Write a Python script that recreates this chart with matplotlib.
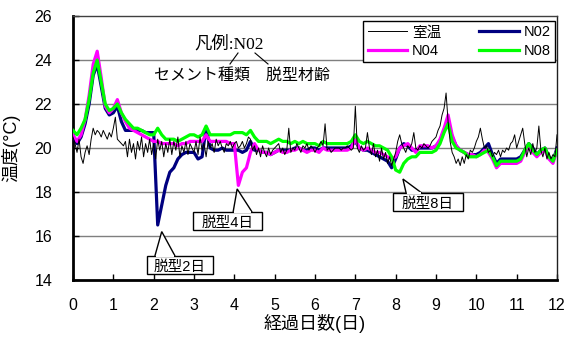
import numpy as np
import matplotlib
matplotlib.use("Agg")
import matplotlib.pyplot as plt
from matplotlib.patches import Rectangle, Polygon
from matplotlib.lines import Line2D

plt.rcParams['font.family'] = ['Liberation Sans', 'Noto Sans CJK JP', 'DejaVu Sans']

# ---- data -------------------------------------------------------------
# concrete temperatures sampled every 0.1 day, room temperature every 0.05 day
t_concrete = np.round(np.arange(0, 12.0001, 0.1), 2)
t_room = np.round(np.arange(0, 12.0001, 0.05), 2)

n02 = [
    20.5, 20.2, 20.5, 21.1, 22.0, 23.3, 23.8, 22.8, 21.8, 21.5,
    21.6, 21.9, 21.2, 20.8, 20.8, 20.8, 20.8, 20.8, 20.7, 20.7,
    20.7, 16.5, 17.4, 18.3, 18.9, 19.1, 19.5, 19.7, 19.8, 19.8,
    19.8, 19.5, 19.6, 20.9, 20.0, 19.9, 19.9, 20.0, 19.9, 19.9,
    19.9, 19.9, 19.8, 19.9, 20.3, 19.9, 19.9, 19.8, 19.8, 19.7,
    19.8, 19.9, 19.9, 19.9, 19.9, 20.0, 20.0, 19.9, 19.9, 20.0,
    20.0, 19.9, 20.0, 20.0, 20.0, 20.0, 20.0, 20.0, 20.0, 20.1,
    20.3, 20.0, 19.9, 19.9, 19.8, 19.7, 19.6, 19.5, 19.4, 19.1,
    19.5, 20.0, 20.2, 20.1, 19.9, 19.9, 20.0, 20.0, 20.0, 20.0,
    20.1, 20.3, 20.8, 21.2, 20.5, 20.1, 19.9, 19.8, 19.7, 19.7,
    19.7, 19.8, 20.0, 20.2, 19.7, 19.3, 19.5, 19.5, 19.5, 19.5,
    19.5, 19.6, 19.9, 20.2, 20.0, 19.7, 19.9, 20.0, 19.6, 19.4,
    20.0,
]

n04 = [
    20.6, 20.3, 20.6, 21.3, 22.4, 23.8, 24.4, 23.2, 21.9, 21.6,
    21.8, 22.2, 21.6, 21.2, 20.9, 20.8, 20.7, 20.6, 20.5, 20.4,
    20.3, 20.3, 20.2, 20.2, 20.2, 20.2, 20.1, 20.2, 20.2, 20.3,
    20.3, 20.3, 20.3, 20.6, 20.3, 20.3, 20.3, 20.3, 20.3, 20.2,
    20.2, 18.3, 18.9, 19.1, 19.8, 20.2, 19.9, 19.8, 19.8, 19.7,
    19.8, 19.9, 19.8, 19.8, 19.9, 19.9, 20.0, 19.9, 19.8, 19.9,
    19.9, 19.8, 20.0, 19.9, 19.9, 19.9, 19.9, 19.9, 19.9, 20.0,
    20.4, 20.0, 19.9, 20.0, 19.9, 19.8, 19.8, 19.7, 19.6, 19.5,
    19.6, 20.0, 20.1, 20.2, 20.0, 19.8, 20.1, 20.1, 20.1, 20.0,
    20.1, 20.4, 20.9, 21.5, 20.6, 20.1, 19.9, 19.8, 19.7, 19.7,
    19.6, 19.7, 19.9, 19.8, 19.5, 19.1, 19.3, 19.3, 19.3, 19.3,
    19.3, 19.4, 19.8, 20.1, 19.8, 19.6, 19.8, 19.9, 19.5, 19.3,
    19.9,
]

n08 = [
    20.8, 20.6, 20.9, 21.3, 22.2, 23.4, 24.0, 23.0, 22.0, 21.7,
    21.8, 22.0, 21.6, 21.3, 21.1, 20.9, 20.9, 20.8, 20.7, 20.6,
    20.6, 20.9, 20.6, 20.4, 20.4, 20.4, 20.3, 20.4, 20.5, 20.6,
    20.6, 20.5, 20.6, 21.0, 20.6, 20.6, 20.6, 20.6, 20.6, 20.6,
    20.7, 20.7, 20.7, 20.6, 20.8, 20.5, 20.3, 20.3, 20.3, 20.2,
    20.3, 20.4, 20.3, 20.3, 20.2, 20.3, 20.2, 20.3, 20.2, 20.2,
    20.2, 20.1, 20.3, 20.2, 20.2, 20.2, 20.2, 20.2, 20.2, 20.3,
    20.6, 20.3, 20.2, 20.3, 20.2, 20.1, 20.1, 20.0, 19.9, 19.6,
    19.0, 18.9, 19.3, 19.5, 19.6, 19.6, 19.8, 19.8, 19.8, 19.8,
    19.9, 20.2, 20.7, 21.1, 20.3, 20.0, 19.9, 19.8, 19.6, 19.6,
    19.6, 19.7, 19.8, 19.9, 19.6, 19.2, 19.4, 19.4, 19.4, 19.4,
    19.4, 19.5, 19.9, 20.2, 19.9, 19.7, 19.9, 20.0, 19.6, 19.4,
    19.9,
]

room = [
    20.5, 20.2, 19.8, 20.4, 19.6, 19.3, 19.8, 20.1, 19.7, 20.4,
    20.9, 20.6, 20.8, 20.7, 20.5, 20.8, 20.6, 20.4, 20.7, 20.5,
    20.9, 21.4, 20.4, 20.3, 20.2, 20.1, 20.3, 19.6, 20.4, 19.8,
    20.2, 19.5, 20.3, 19.9, 20.5, 19.6, 20.2, 19.8, 20.4, 19.7,
    20.2, 19.5, 20.4, 19.9, 20.3, 19.6, 20.2, 19.8, 20.4, 19.7,
    20.3, 19.9, 20.5, 19.6, 20.1, 19.8, 20.3, 19.7, 20.2, 20.0,
    19.8, 20.3, 19.7, 20.5, 19.9, 20.2, 19.6, 20.3, 20.0, 20.2,
    19.8, 20.4, 20.1, 20.3, 20.0, 19.8, 20.2, 20.1, 20.3, 20.0,
    20.2, 20.3, 20.0, 20.1, 20.3, 20.0, 20.2, 20.5, 20.4, 19.9,
    20.1, 19.7, 20.0, 19.6, 20.1, 19.8, 19.6, 20.0, 19.7, 19.9,
    20.0, 20.1, 20.2, 19.8, 20.0, 19.7, 19.9, 20.9, 19.8, 20.0,
    19.9, 20.2, 20.0, 19.8, 20.1, 20.0, 20.2, 19.9, 20.1, 20.0,
    19.8, 20.0, 20.1, 20.3, 20.1, 21.1, 19.9, 20.0, 19.8, 19.9,
    20.0, 20.0, 20.0, 19.9, 20.0, 20.0, 20.1, 20.0, 19.9, 20.0,
    21.9, 20.0, 19.8, 20.1, 19.9, 20.0, 20.7, 20.0, 19.7, 20.2,
    19.6, 19.9, 19.4, 20.0, 19.5, 19.8, 19.3, 19.6, 19.2, 19.5,
    19.8, 20.3, 20.6, 20.2, 20.0, 19.8, 20.1, 20.0, 20.2, 20.7,
    20.0, 19.9, 20.1, 20.0, 20.2, 20.1, 20.0, 20.1, 20.3, 20.4,
    20.5, 20.8, 21.0, 21.5, 21.8, 22.5, 21.2, 20.3, 19.8, 19.6,
    19.3, 19.5, 19.2, 19.6, 19.3, 19.7, 19.5, 19.9, 19.8, 20.0,
    20.3, 20.5, 20.9, 20.4, 20.0, 20.1, 19.8, 19.9, 19.6, 19.8,
    19.7, 19.9, 19.6, 19.9, 19.8, 20.0, 19.9, 20.2, 20.3, 20.6,
    20.0, 20.3, 20.6, 20.9, 20.2, 19.6, 20.0, 19.7, 20.2, 19.8,
    20.0, 21.0, 19.9, 19.6, 20.0, 19.5, 19.8, 19.5, 19.7, 19.6,
    20.6,
]

x_ticks = list(range(0, 13))
y_ticks = [14, 16, 18, 20, 22, 24, 26]
series_labels = ['室温', 'N02', 'N04', 'N08']
demold_labels = ['脱型2日', '脱型4日', '脱型8日']

# ---- figure -----------------------------------------------------------
W, H = 565, 338
fig = plt.figure(figsize=(W / 100, H / 100), dpi=100)
ax = fig.add_axes([73 / W, 1 - 280 / H, (557 - 73) / W, (280 - 16) / H])


def fpx(x, y):
    """pixel position -> figure fraction"""
    return x / W, 1 - y / H


for v in y_ticks[1:-1]:
    ax.axhline(v, color='#7f7f7f', lw=1.0, zorder=1)

l02, = ax.plot(t_concrete, n02, color='#000080', lw=2.3, zorder=3, solid_joinstyle='round')
l04, = ax.plot(t_concrete, n04, color='#ff00ff', lw=2.3, zorder=4, solid_joinstyle='round')
l08, = ax.plot(t_concrete, n08, color='#00ff00', lw=2.3, zorder=5, solid_joinstyle='round')
lrm, = ax.plot(t_room, room, color='black', lw=0.7, zorder=6)

ax.set_xlim(0, 12)
ax.set_ylim(14, 26)
ax.set_xticks(x_ticks)
ax.set_yticks(y_ticks)
ax.tick_params(axis='both', direction='in', length=4, width=1, labelsize=11.5, color='black')
ax.tick_params(axis='x', pad=13)
ax.tick_params(axis='y', pad=15)

ax.spines['left'].set_linewidth(2)
ax.spines['bottom'].set_linewidth(2)
ax.spines['top'].set_linewidth(1)
ax.spines['right'].set_linewidth(1)
ax.spines['top'].set_color('#404040')
ax.spines['right'].set_color('#202020')

ax.set_xlabel('経過日数(日)', fontsize=13, labelpad=1)
ax.set_ylabel('温度(°C)', fontsize=13, labelpad=10)

leg = ax.legend([lrm, l04, l02, l08], ['室温', 'N04', 'N02', 'N08'], ncol=2,
                loc='upper right', bbox_to_anchor=fpx(555, 21),
                bbox_transform=fig.transFigure, fontsize=10.5, frameon=True,
                fancybox=False, edgecolor='black', framealpha=1,
                handlelength=2.7, handletextpad=0.35, columnspacing=2.6,
                borderpad=0.3, labelspacing=0.3, borderaxespad=0)
leg.get_frame().set_linewidth(1)
leg.set_zorder(10)

# legend explanation text with leader lines
fig.text(*fpx(229, 44), '凡例:N02', fontsize=12.5, ha='center', va='center',
         family=['Liberation Serif', 'Noto Sans CJK JP'])
fig.text(*fpx(242, 75), 'セメント種類\u3000脱型材齢', fontsize=11.5, ha='center', va='center',
         family=['Noto Sans CJK JP'])
for (x0, y0, x1, y1) in [(238, 53, 230, 64), (255, 53, 268, 64)]:
    fig.add_artist(Line2D([x0 / W, x1 / W], [1 - y0 / H, 1 - y1 / H],
                          color='black', lw=0.8, transform=fig.transFigure))

# demolding callouts (box + wedge pointing at the curve)
callouts = [
    # label, box (x0, x1, y0, y1), wedge base x (a, b), tip (x, y)
    (demold_labels[0], (1.835, 3.47, 14.27, 15.09), (2.03, 2.53), (2.2, 16.2)),
    (demold_labels[1], (2.975, 4.686, 16.27, 17.09), (3.97, 4.44), (4.07, 18.14)),
    (demold_labels[2], (7.935, 9.67, 17.14, 17.95), (8.26, 8.65), (8.18, 18.59)),
]
for label, (bx0, bx1, by0, by1), (wa, wb), (tx, ty) in callouts:
    ax.add_patch(Rectangle((bx0, by0), bx1 - bx0, by1 - by0, facecolor='white',
                           edgecolor='black', lw=1.0, zorder=7, clip_on=False))
    ax.add_patch(Polygon([(wa, by1), (tx, ty), (wb, by1)], closed=False,
                         facecolor='white', edgecolor='black', lw=1.0, zorder=8))
    ax.plot([wa + 0.02, wb - 0.02], [by1, by1], color='white', lw=1.6, zorder=9,
            solid_capstyle='butt')
    ax.text((bx0 + bx1) / 2, by0 + (by1 - by0) * 0.38, label, fontsize=10.5,
            ha='center', va='center', zorder=10)

fig.savefig('out.png', dpi=100)
